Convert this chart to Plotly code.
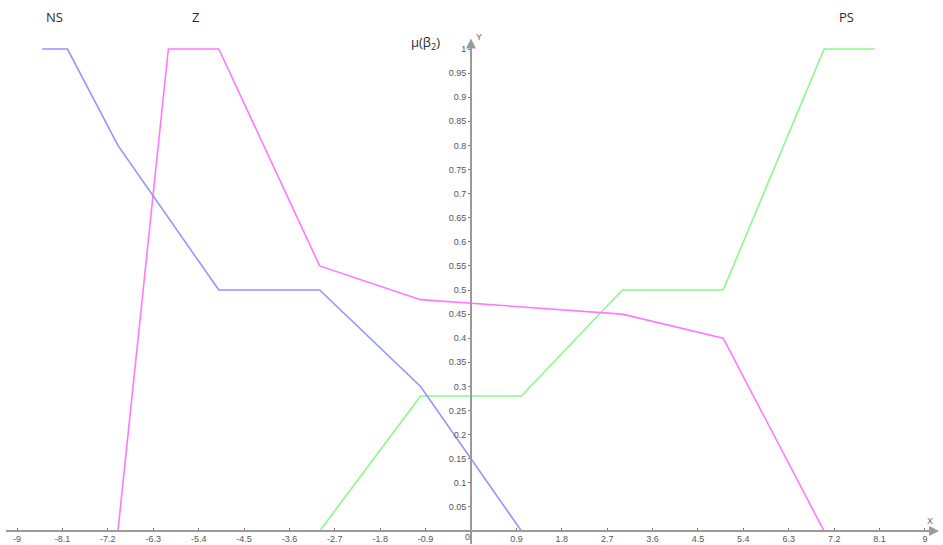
import plotly.graph_objects as go

# Membership functions of beta_2 (breakpoints of the piecewise-linear curves)
x_ns = [-8.5, -8.0, -7.0, -5.0, -3.0, -1.0, 1.0, 7.0]
mu_ns = [1.0, 1.0, 0.8, 0.5, 0.5, 0.3, 0.0, 0.0]

x_z = [-7.0, -6.0, -5.0, -3.0, -1.0, 3.0, 5.0, 7.0]
mu_z = [0.0, 1.0, 1.0, 0.55, 0.48, 0.45, 0.40, 0.0]

x_ps = [-7.0, -3.0, -1.0, 1.0, 3.0, 5.0, 7.0, 8.0]
mu_ps = [0.0, 0.0, 0.28, 0.28, 0.5, 0.5, 1.0, 1.0]

# Axis ticks
x_tickvals = [-9, -8.1, -7.2, -6.3, -5.4, -4.5, -3.6, -2.7, -1.8, -0.9,
              0.9, 1.8, 2.7, 3.6, 4.5, 5.4, 6.3, 7.2, 8.1, 9]
x_ticktext = ["-9", "-8.1", "-7.2", "-6.3", "-5.4", "-4.5", "-3.6", "-2.7", "-1.8", "-0.9",
              "0.9", "1.8", "2.7", "3.6", "4.5", "5.4", "6.3", "7.2", "8.1", "9"]
y_tickvals = [0.05, 0.1, 0.15, 0.2, 0.25, 0.3, 0.35, 0.4, 0.45, 0.5,
              0.55, 0.6, 0.65, 0.7, 0.75, 0.8, 0.85, 0.9, 0.95, 1.0]
y_ticktext = ["0.05", "0.1", "0.15", "0.2", "0.25", "0.3", "0.35", "0.4", "0.45", "0.5",
              "0.55", "0.6", "0.65", "0.7", "0.75", "0.8", "0.85", "0.9", "0.95", "1"]

X_RANGE = [-9.338, 9.358]
Y_RANGE = [-0.029, 1.1017]

AXIS_COLOR = "#9a9a9a"
TICK_FONT = dict(family="Liberation Sans Narrow, Liberation Sans, Arial", size=9, color="#555555")
LABEL_FONT = dict(family="Open Sans, Noto Sans, sans-serif", size=13, color="#2a2a2a")

fig = go.Figure()

fig.add_trace(go.Scatter(x=x_ps, y=mu_ps, mode="lines", name="PS",
                         line=dict(color="#8cf78c", width=1.6)))
fig.add_trace(go.Scatter(x=x_z, y=mu_z, mode="lines", name="Z",
                         line=dict(color="#ff78ff", width=1.6)))
fig.add_trace(go.Scatter(x=x_ns, y=mu_ns, mode="lines", name="NS",
                         line=dict(color="#9494ff", width=1.6)))

# Axis lines through the origin, with arrowheads
fig.add_annotation(x=9.28, y=0, ax=-9.25, ay=0, xref="x", yref="y", axref="x", ayref="y",
                   text="", showarrow=True, arrowhead=2, arrowsize=1.0, arrowwidth=2,
                   arrowcolor=AXIS_COLOR)
fig.add_annotation(x=0, y=1.022, ax=0, ay=-0.03, xref="x", yref="y", axref="x", ayref="y",
                   text="", showarrow=True, arrowhead=2, arrowsize=1.0, arrowwidth=2,
                   arrowcolor=AXIS_COLOR)

# Axis names and origin
fig.add_annotation(x=0, y=0, text="0", showarrow=False, xanchor="right", yanchor="top",
                   xshift=1, yshift=1, font=TICK_FONT)
fig.add_annotation(x=0.05, y=1.025, text="Y", showarrow=False, xanchor="left",
                   yanchor="middle", font=dict(TICK_FONT, color="#666666"))
fig.add_annotation(x=9.1, y=0.02, text="X", showarrow=False, xanchor="center",
                   yanchor="middle", font=dict(TICK_FONT, color="#666666"))

# Curve labels and vertical-axis title
fig.add_annotation(x=-8.25, y=1.066, text="NS", showarrow=False, font=LABEL_FONT)
fig.add_annotation(x=-5.47, y=1.066, text="Z", showarrow=False, font=LABEL_FONT)
fig.add_annotation(x=7.45, y=1.066, text="PS", showarrow=False, font=LABEL_FONT)
fig.add_annotation(x=-0.91, y=1.012, text="μ(β<sub>2</sub>)", showarrow=False,
                   font=dict(LABEL_FONT, size=13))

fig.update_layout(
    width=943, height=545,
    margin=dict(l=0, r=0, t=0, b=0, autoexpand=False),
    paper_bgcolor="white", plot_bgcolor="white",
    showlegend=False,
    xaxis=dict(range=X_RANGE, anchor="free", position=0.0257,
               showgrid=False, zeroline=False, showline=False,
               tickmode="array", tickvals=x_tickvals, ticktext=x_ticktext,
               ticks="inside", ticklen=3, tickwidth=1, tickcolor="#777777",
               ticklabelstandoff=1, tickfont=TICK_FONT),
    yaxis=dict(range=Y_RANGE, anchor="free", position=0.4995,
               showgrid=False, zeroline=False, showline=False,
               tickmode="array", tickvals=y_tickvals, ticktext=y_ticktext,
               ticks="outside", ticklen=3, tickwidth=1, tickcolor="#777777",
               tickfont=TICK_FONT),
)

fig.write_html("out.html")
